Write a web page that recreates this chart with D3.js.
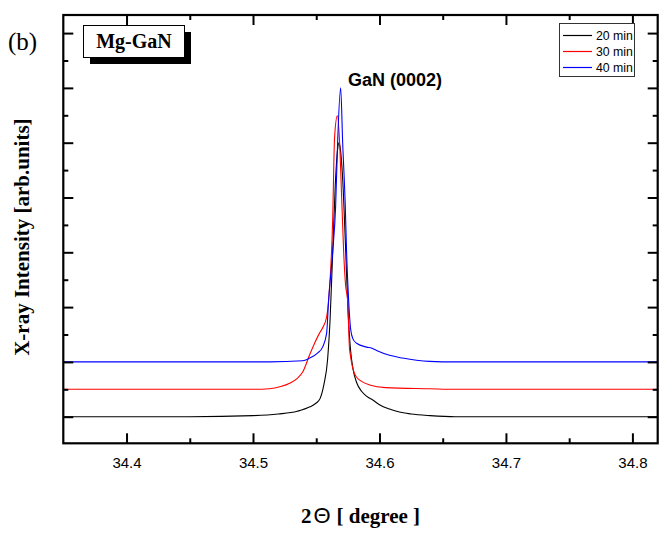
<!DOCTYPE html>
<html>
<head>
<meta charset="utf-8">
<script src="https://cdn.jsdelivr.net/npm/d3@7/dist/d3.min.js"></script>
<style>
  body { margin: 0; background: #fff; }
  svg { display: block; }
</style>
</head>
<body>
<svg id="chart" width="659" height="535"></svg>
<script>
// ---------- data ----------
const xTickValues = [34.4, 34.5, 34.6, 34.7, 34.8];
const xMinorTicks = [34.45, 34.55, 34.65, 34.75];
const yMajorTicks = [0, 1, 2, 3, 4, 5, 6, 7];
const yMinorTicks = [0.5, 1.5, 2.5, 3.5, 4.5, 5.5, 6.5];
const xDomain = [34.35, 34.82];
const yDomain = [-0.485, 7.33];

const seriesNames = ["20 min", "30 min", "40 min"];
const seriesColors = ["#000000", "#ff0000", "#0000ff"];

const data20 = [
  [34.35, 0.0], [34.40, 0.0], [34.45, 0.0], [34.50, 0.02], [34.52, 0.05],
  [34.535, 0.10], [34.545, 0.18], [34.550, 0.25], [34.553, 0.33], [34.556, 0.58],
  [34.559, 1.05], [34.561, 1.8], [34.563, 3.0], [34.565, 4.2], [34.567, 4.9],
  [34.568, 5.0], [34.569, 4.9], [34.571, 4.3], [34.573, 3.2], [34.575, 2.0],
  [34.577, 1.25], [34.579, 0.88], [34.582, 0.62], [34.586, 0.46], [34.590, 0.37],
  [34.595, 0.30], [34.600, 0.22], [34.608, 0.14], [34.615, 0.09], [34.625, 0.05],
  [34.64, 0.02], [34.66, 0.0], [34.70, 0.0], [34.82, 0.0]
];
const data30 = [
  [34.35, 0.5], [34.40, 0.5], [34.45, 0.5], [34.50, 0.5], [34.513, 0.51],
  [34.522, 0.55], [34.529, 0.61], [34.535, 0.70], [34.5393, 0.815], [34.5448, 1.13],
  [34.5487, 1.34], [34.5527, 1.53], [34.555, 1.62], [34.5582, 1.82], [34.5598, 2.13],
  [34.563, 3.6], [34.5645, 5.1], [34.5667, 5.49], [34.5685, 5.0], [34.5701, 4.0],
  [34.5717, 3.0], [34.5732, 2.4], [34.5748, 2.13], [34.5764, 1.22], [34.5819, 0.72],
  [34.5922, 0.58], [34.605, 0.53], [34.6395, 0.51], [34.66, 0.5], [34.70, 0.5],
  [34.82, 0.5]
];
const data40 = [
  [34.35, 1.0], [34.40, 1.0], [34.45, 1.0], [34.50, 1.0], [34.5132, 1.0],
  [34.5393, 1.02], [34.5448, 1.07], [34.551, 1.16], [34.555, 1.27], [34.5582, 1.52],
  [34.5598, 2.13], [34.563, 3.0], [34.5653, 3.82], [34.5669, 5.0], [34.5693, 6.0],
  [34.5709, 5.0], [34.573, 3.82], [34.574, 3.0], [34.5756, 2.13], [34.5772, 1.6],
  [34.5790, 1.42], [34.5819, 1.34], [34.5898, 1.27], [34.594, 1.25], [34.5977, 1.21],
  [34.608, 1.12], [34.6182, 1.07], [34.6293, 1.03], [34.6395, 1.01], [34.66, 1.0],
  [34.70, 1.0], [34.82, 1.0]
];
const seriesData = [data20, data30, data40];

// ---------- layout ----------
const svg = d3.select("#chart");
const plot = { left: 63.3, right: 657.7, top: 15, bottom: 443.3 };

const x = d3.scaleLinear().domain(xDomain).range([plot.left, plot.right]);
const y = d3.scaleLinear().domain(yDomain).range([plot.bottom, plot.top]);

// curves
const line = d3.line().x(d => x(d[0])).y(d => y(d[1])).curve(d3.curveMonotoneX);
svg.append("clipPath").attr("id", "clip").append("rect")
  .attr("x", plot.left).attr("y", plot.top)
  .attr("width", plot.right - plot.left).attr("height", plot.bottom - plot.top);

const curves = svg.append("g").attr("clip-path", "url(#clip)");
seriesData.forEach((d, i) => {
  curves.append("path").datum(d)
    .attr("d", line)
    .attr("fill", "none")
    .attr("stroke", seriesColors[i])
    .attr("stroke-width", 1.1);
});

// axes helpers
function styleAxis(g) {
  g.select(".domain").remove();
  g.selectAll(".tick line").attr("stroke", "#000").attr("stroke-width", 2);
}
// bottom
const gB = svg.append("g").attr("transform", `translate(0,${plot.bottom})`)
  .call(d3.axisBottom(x).tickValues(xTickValues).tickSize(-10).tickPadding(14)
    .tickFormat(d3.format(".1f")));
styleAxis(gB);
gB.selectAll(".tick text").attr("font-family", "Liberation Sans, Arial, sans-serif")
  .attr("font-size", 15).attr("fill", "#000");
const gBm = svg.append("g").attr("transform", `translate(0,${plot.bottom})`)
  .call(d3.axisBottom(x).tickValues(xMinorTicks).tickSize(-5).tickFormat(""));
styleAxis(gBm);
// top
const gT = svg.append("g").attr("transform", `translate(0,${plot.top})`)
  .call(d3.axisTop(x).tickValues(xTickValues).tickSize(-10).tickFormat(""));
styleAxis(gT);
const gTm = svg.append("g").attr("transform", `translate(0,${plot.top})`)
  .call(d3.axisTop(x).tickValues(xMinorTicks).tickSize(-5).tickFormat(""));
styleAxis(gTm);
// left
const gL = svg.append("g").attr("transform", `translate(${plot.left},0)`)
  .call(d3.axisLeft(y).tickValues(yMajorTicks).tickSize(-10).tickFormat(""));
styleAxis(gL);
const gLm = svg.append("g").attr("transform", `translate(${plot.left},0)`)
  .call(d3.axisLeft(y).tickValues(yMinorTicks).tickSize(-5).tickFormat(""));
styleAxis(gLm);
// right
const gR = svg.append("g").attr("transform", `translate(${plot.right},0)`)
  .call(d3.axisRight(y).tickValues(yMajorTicks).tickSize(-10).tickFormat(""));
styleAxis(gR);
const gRm = svg.append("g").attr("transform", `translate(${plot.right},0)`)
  .call(d3.axisRight(y).tickValues(yMinorTicks).tickSize(-5).tickFormat(""));
styleAxis(gRm);

// frame
svg.append("rect")
  .attr("x", plot.left).attr("y", plot.top)
  .attr("width", plot.right - plot.left).attr("height", plot.bottom - plot.top)
  .attr("fill", "none").attr("stroke", "#000").attr("stroke-width", 2.2);

// axis titles
const xt = svg.append("text")
  .attr("x", (plot.left + plot.right) / 2).attr("y", 523)
  .attr("text-anchor", "middle")
  .attr("font-family", "Liberation Serif, Times New Roman, serif")
  .attr("font-weight", "bold").attr("font-size", 21).attr("fill", "#000");
xt.append("tspan").text("2");
xt.append("tspan").attr("font-family", "Liberation Sans, Arial, sans-serif")
  .attr("font-weight", "normal").attr("font-size", 22).attr("dx", 2).text("Θ");
xt.append("tspan").attr("dx", 6).text("[ degree ]");

svg.append("text")
  .attr("transform", `translate(29,${(plot.top + plot.bottom) / 2 + 8}) rotate(-90)`)
  .attr("text-anchor", "middle")
  .attr("font-family", "Liberation Serif, Times New Roman, serif")
  .attr("font-weight", "bold").attr("font-size", 21).attr("fill", "#000")
  .text("X-ray Intensity [arb.units]");

// panel label
svg.append("text").attr("x", 8).attr("y", 50)
  .attr("font-family", "Liberation Serif, Times New Roman, serif")
  .attr("font-size", 25).attr("fill", "#000").text("(b)");

// Mg-GaN box with shadow
svg.append("rect").attr("x", 90).attr("y", 32).attr("width", 101).attr("height", 32)
  .attr("fill", "#000");
svg.append("rect").attr("x", 83.5).attr("y", 25.5).attr("width", 101).attr("height", 32)
  .attr("fill", "#fff").attr("stroke", "#000").attr("stroke-width", 1);
svg.append("text").attr("x", 134).attr("y", 48).attr("text-anchor", "middle")
  .attr("font-family", "Liberation Serif, Times New Roman, serif")
  .attr("font-weight", "bold").attr("font-size", 20).attr("fill", "#000")
  .text("Mg-GaN");

// peak label
svg.append("text").attr("x", 348).attr("y", 86)
  .attr("font-family", "Liberation Sans, Arial, sans-serif")
  .attr("font-weight", "bold").attr("font-size", 18).attr("fill", "#000")
  .text("GaN (0002)");

// legend
const lg = svg.append("g");
lg.append("rect").attr("x", 559.5).attr("y", 23.5).attr("width", 75).attr("height", 53)
  .attr("fill", "#fff").attr("stroke", "#333").attr("stroke-width", 1);
seriesNames.forEach((name, i) => {
  const cy = 35.5 + i * 16;
  lg.append("line").attr("x1", 563).attr("x2", 592).attr("y1", cy).attr("y2", cy)
    .attr("stroke", seriesColors[i]).attr("stroke-width", 1.2);
  lg.append("text").attr("x", 596).attr("y", cy + 4.5)
    .attr("font-family", "Liberation Sans, Arial, sans-serif")
    .attr("font-size", 12.3).attr("fill", "#000").text(name);
});
</script>
</body>
</html>
